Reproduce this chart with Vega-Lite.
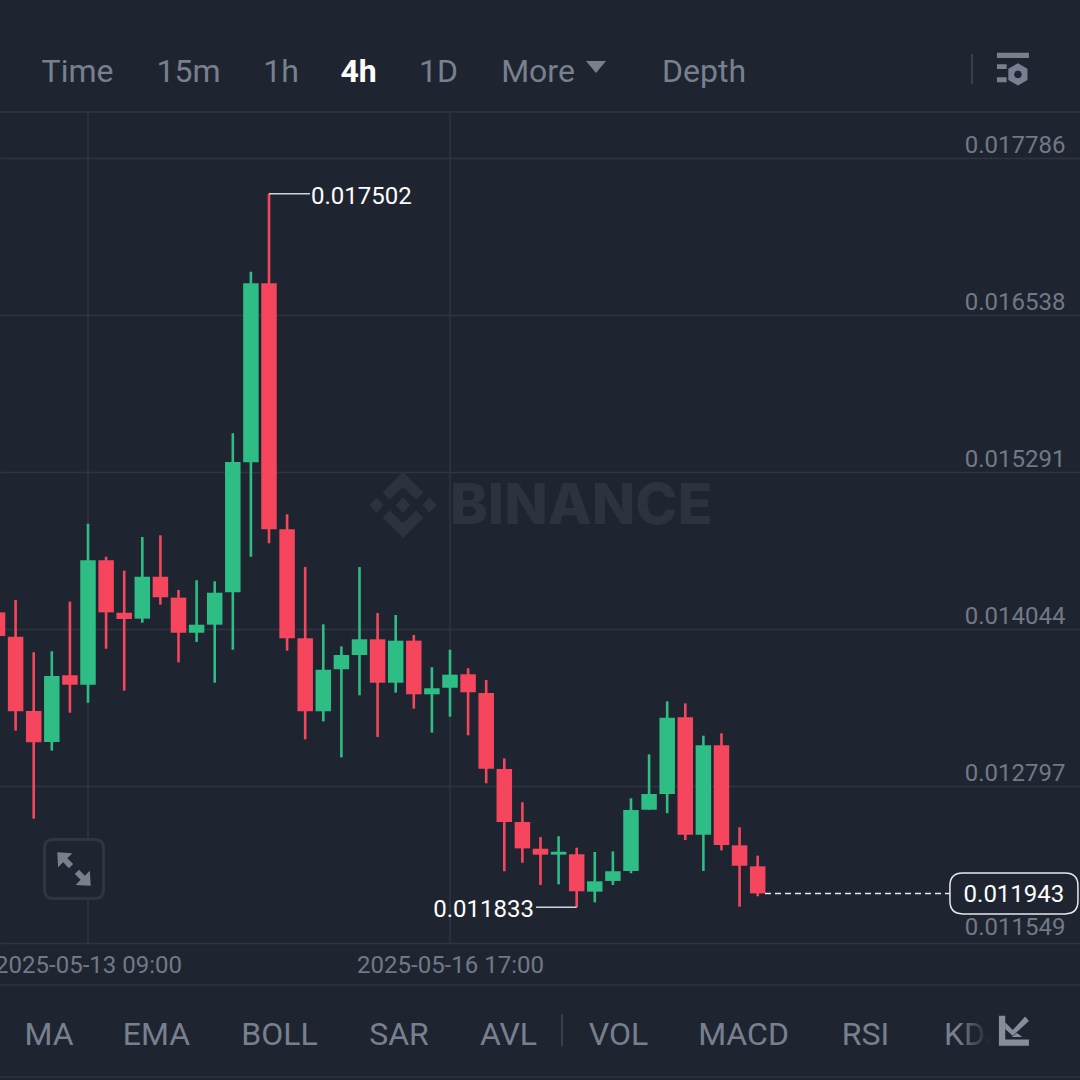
{
  "$schema": "https://vega.github.io/schema/vega-lite/v6.json",
  "description": "4h candlestick chart with exchange toolbars.",
  "width": 1080,
  "height": 1080,
  "padding": 0,
  "autosize": {"type": "none"},
  "background": "#1f2530",
  "config": {
    "view": {"stroke": null},
    "text": {"font": "Roboto", "fontSize": 32, "color": "#78808f", "baseline": "middle", "dy": 2},
    "axis": {"labelFont": "Roboto", "labelFontSize": 24, "labelColor": "#717987", "domain": false, "ticks": false, "title": null}
  },
  "data": {"values": [{}]},
  "datasets": {
    "candles": [
      {"date": "2025-05-12T13:00:00Z", "open": 0.014176, "high": 0.014190, "low": 0.013970, "close": 0.013988},
      {"date": "2025-05-12T17:00:00Z", "open": 0.013983, "high": 0.014274, "low": 0.013236, "close": 0.013390},
      {"date": "2025-05-12T21:00:00Z", "open": 0.013392, "high": 0.013859, "low": 0.012537, "close": 0.013144},
      {"date": "2025-05-13T01:00:00Z", "open": 0.013146, "high": 0.013867, "low": 0.013077, "close": 0.013670},
      {"date": "2025-05-13T05:00:00Z", "open": 0.013676, "high": 0.014261, "low": 0.013379, "close": 0.013601},
      {"date": "2025-05-13T09:00:00Z", "open": 0.013601, "high": 0.014880, "low": 0.013458, "close": 0.014590},
      {"date": "2025-05-13T13:00:00Z", "open": 0.014590, "high": 0.014618, "low": 0.013887, "close": 0.014176},
      {"date": "2025-05-13T17:00:00Z", "open": 0.014173, "high": 0.014507, "low": 0.013554, "close": 0.014123},
      {"date": "2025-05-13T21:00:00Z", "open": 0.014126, "high": 0.014775, "low": 0.014094, "close": 0.014459},
      {"date": "2025-05-14T01:00:00Z", "open": 0.014459, "high": 0.014788, "low": 0.014237, "close": 0.014296},
      {"date": "2025-05-14T05:00:00Z", "open": 0.014293, "high": 0.014354, "low": 0.013779, "close": 0.014014},
      {"date": "2025-05-14T09:00:00Z", "open": 0.014014, "high": 0.014431, "low": 0.013941, "close": 0.014078},
      {"date": "2025-05-14T13:00:00Z", "open": 0.014078, "high": 0.014423, "low": 0.013617, "close": 0.014332},
      {"date": "2025-05-14T17:00:00Z", "open": 0.014335, "high": 0.015599, "low": 0.013879, "close": 0.015371},
      {"date": "2025-05-14T21:00:00Z", "open": 0.015368, "high": 0.016883, "low": 0.014618, "close": 0.016790},
      {"date": "2025-05-15T01:00:00Z", "open": 0.016790, "high": 0.017502, "low": 0.014725, "close": 0.014836},
      {"date": "2025-05-15T05:00:00Z", "open": 0.014836, "high": 0.014955, "low": 0.013871, "close": 0.013970},
      {"date": "2025-05-15T09:00:00Z", "open": 0.013970, "high": 0.014536, "low": 0.013167, "close": 0.013390},
      {"date": "2025-05-15T13:00:00Z", "open": 0.013390, "high": 0.014081, "low": 0.013310, "close": 0.013720},
      {"date": "2025-05-15T17:00:00Z", "open": 0.013724, "high": 0.013906, "low": 0.013024, "close": 0.013837},
      {"date": "2025-05-15T21:00:00Z", "open": 0.013837, "high": 0.014536, "low": 0.013517, "close": 0.013962},
      {"date": "2025-05-16T01:00:00Z", "open": 0.013962, "high": 0.014171, "low": 0.013186, "close": 0.013617},
      {"date": "2025-05-16T05:00:00Z", "open": 0.013617, "high": 0.014155, "low": 0.013538, "close": 0.013951},
      {"date": "2025-05-16T09:00:00Z", "open": 0.013951, "high": 0.013996, "low": 0.013411, "close": 0.013525},
      {"date": "2025-05-16T13:00:00Z", "open": 0.013525, "high": 0.013740, "low": 0.013220, "close": 0.013573},
      {"date": "2025-05-16T17:00:00Z", "open": 0.013577, "high": 0.013879, "low": 0.013347, "close": 0.013681},
      {"date": "2025-05-16T21:00:00Z", "open": 0.013684, "high": 0.013732, "low": 0.013199, "close": 0.013541},
      {"date": "2025-05-17T01:00:00Z", "open": 0.013535, "high": 0.013639, "low": 0.012818, "close": 0.012934},
      {"date": "2025-05-17T05:00:00Z", "open": 0.012931, "high": 0.013016, "low": 0.012119, "close": 0.012510},
      {"date": "2025-05-17T09:00:00Z", "open": 0.012510, "high": 0.012667, "low": 0.012187, "close": 0.012301},
      {"date": "2025-05-17T13:00:00Z", "open": 0.012298, "high": 0.012391, "low": 0.012010, "close": 0.012251},
      {"date": "2025-05-17T17:00:00Z", "open": 0.012251, "high": 0.012397, "low": 0.012015, "close": 0.012274},
      {"date": "2025-05-17T21:00:00Z", "open": 0.012254, "high": 0.012306, "low": 0.011833, "close": 0.011960},
      {"date": "2025-05-18T01:00:00Z", "open": 0.011957, "high": 0.012272, "low": 0.011872, "close": 0.012039},
      {"date": "2025-05-18T05:00:00Z", "open": 0.012042, "high": 0.012277, "low": 0.012010, "close": 0.012119},
      {"date": "2025-05-18T09:00:00Z", "open": 0.012121, "high": 0.012699, "low": 0.012103, "close": 0.012606},
      {"date": "2025-05-18T13:00:00Z", "open": 0.012608, "high": 0.013048, "low": 0.012608, "close": 0.012733},
      {"date": "2025-05-18T17:00:00Z", "open": 0.012733, "high": 0.013469, "low": 0.012580, "close": 0.013339},
      {"date": "2025-05-18T21:00:00Z", "open": 0.013342, "high": 0.013453, "low": 0.012367, "close": 0.012409},
      {"date": "2025-05-19T01:00:00Z", "open": 0.012409, "high": 0.013196, "low": 0.012121, "close": 0.013120},
      {"date": "2025-05-19T05:00:00Z", "open": 0.013120, "high": 0.013215, "low": 0.012285, "close": 0.012328},
      {"date": "2025-05-19T09:00:00Z", "open": 0.012325, "high": 0.012468, "low": 0.011837, "close": 0.012163},
      {"date": "2025-05-19T13:00:00Z", "open": 0.012158, "high": 0.012243, "low": 0.011920, "close": 0.011943}
    ]
  },
  "layer": [
    {"mark": {"type": "rule", "color": "#2f3541", "strokeWidth": 1.5}, "encoding": {"x": {"datum": {"utc": true, "year": 2025, "month": 5, "date": 13, "hours": 9}, "type": "temporal"}, "y": {"datum": 0.018151, "type": "quantitative"}, "y2": {"datum": 0.011549}}},
    {"mark": {"type": "rule", "color": "#2f3541", "strokeWidth": 1.5}, "encoding": {"x": {"datum": {"utc": true, "year": 2025, "month": 5, "date": 16, "hours": 17}, "type": "temporal"}, "y": {"datum": 0.018151, "type": "quantitative"}, "y2": {"datum": 0.011549}}},
    {"mark": {"type": "rule", "color": "#2b313c", "strokeWidth": 2}, "encoding": {"y": {"datum": 0.018151, "type": "quantitative"}}},
    {"mark": {"type": "rule", "color": "#2f3541", "strokeWidth": 1.5}, "encoding": {"y": {"datum": 0.011215, "type": "quantitative"}}},
    {"mark": {"type": "rule", "color": "#2f3541", "strokeWidth": 1.5}, "encoding": {"y": {"datum": 0.010484, "type": "quantitative"}}},
    {"mark": {"type": "text", "text": "BINANCE", "font": "Inter", "fontWeight": 800, "fontSize": 57, "align": "left", "color": "#2d333e"}, "encoding": {"x": {"datum": {"utc": true, "year": 2025, "month": 5, "date": 16, "hours": 17}, "type": "temporal"}, "y": {"datum": 0.015028, "type": "quantitative"}}},
    {
      "mark": {"type": "point", "filled": true, "color": "#2d333e", "opacity": 1, "size": 4356,
        "shape": "M0,-1 L.62,-.38 L.4,-.16 L0,-.55 L-.4,-.16 L-.62,-.38 Z M0,1 L.62,.38 L.4,.16 L0,.55 L-.4,.16 L-.62,.38 Z M0,-.23 L.23,0 L0,.23 L-.23,0 Z M-.8,-.22 L-.58,0 L-.8,.22 L-1.02,0 Z M.8,-.22 L1.02,0 L.8,.22 L.58,0 Z"},
      "encoding": {"x": {"datum": {"utc": true, "year": 2025, "month": 5, "date": 16, "hours": 6, "minutes": 37}, "type": "temporal"}, "y": {"datum": 0.015028, "type": "quantitative"}}
    },
    {
      "data": {"name": "candles"},
      "mark": {"type": "rule", "strokeWidth": 2.6},
      "encoding": {
        "x": {
          "field": "date",
          "type": "temporal",
          "scale": {"type": "utc", "nice": false, "padding": 0, "domain": [{"utc": true, "year": 2025, "month": 5, "date": 12, "hours": 13, "minutes": 33}, {"utc": true, "year": 2025, "month": 5, "date": 22, "hours": 12, "minutes": 14}]},
          "axis": {
            "orient": "bottom",
            "offset": -115,
            "grid": false,
            "values": [
              {"utc": true, "year": 2025, "month": 5, "date": 13, "hours": 9},
              {"utc": true, "year": 2025, "month": 5, "date": 16, "hours": 17}
            ],
            "format": "%Y-%m-%d %H:%M",
            "labelAlign": "center",
            "labelBaseline": "middle",
            "labelPadding": 0,
            "labelLimit": 400,
            "labelFlush": false,
            "labelBound": false,
            "labelOverlap": false
          }
        },
        "y": {
          "field": "high",
          "type": "quantitative",
          "scale": {"domain": [0.0104605, 0.0190413], "zero": false, "nice": false},
          "axis": {
            "orient": "right",
            "values": [0.017786, 0.016538, 0.015291, 0.014044, 0.012797, 0.011549],
            "format": ".6f",
            "grid": true,
            "gridColor": "#2f3541",
            "gridWidth": 1.5,
            "labelAlign": "right",
            "labelBaseline": "bottom",
            "labelPadding": -15,
            "labelOffset": {"condition": {"test": "datum.value < 0.0116", "value": -3}, "value": -0.5},
            "labelBound": false,
            "labelOverlap": false
          }
        },
        "y2": {"field": "low"},
        "color": {"condition": {"test": "datum.close >= datum.open", "value": "#2ebd85"}, "value": "#f6465d"}
      }
    },
    {
      "data": {"name": "candles"},
      "mark": {"type": "bar", "size": 15.5},
      "encoding": {
        "x": {"field": "date", "type": "temporal", "scale": {"type": "utc", "nice": false, "padding": 0, "domain": [{"utc": true, "year": 2025, "month": 5, "date": 12, "hours": 13, "minutes": 33}, {"utc": true, "year": 2025, "month": 5, "date": 22, "hours": 12, "minutes": 14}]}},
        "y": {"field": "open", "type": "quantitative", "scale": {"domain": [0.0104605, 0.0190413], "zero": false, "nice": false}},
        "y2": {"field": "close"},
        "color": {"condition": {"test": "datum.close >= datum.open", "value": "#2ebd85"}, "value": "#f6465d"}
      }
    },
    {"mark": {"type": "rule", "color": "#d0d3d8", "strokeWidth": 1.5}, "encoding": {"x": {"datum": {"utc": true, "year": 2025, "month": 5, "date": 15, "hours": 1}, "type": "temporal"}, "x2": {"datum": {"utc": true, "year": 2025, "month": 5, "date": 15, "hours": 10, "minutes": 4}}, "y": {"datum": 0.017502, "type": "quantitative"}}},
    {"mark": {"type": "text", "text": "0.017502", "fontSize": 24, "align": "left", "color": "#ffffff", "dx": 1, "dy": 3}, "encoding": {"x": {"datum": {"utc": true, "year": 2025, "month": 5, "date": 15, "hours": 10, "minutes": 4}, "type": "temporal"}, "y": {"datum": 0.017502, "type": "quantitative"}}},
    {"mark": {"type": "rule", "color": "#d0d3d8", "strokeWidth": 1.5}, "encoding": {"x": {"datum": {"utc": true, "year": 2025, "month": 5, "date": 17, "hours": 12}, "type": "temporal"}, "x2": {"datum": {"utc": true, "year": 2025, "month": 5, "date": 17, "hours": 21}}, "y": {"datum": 0.011833, "type": "quantitative"}}},
    {"mark": {"type": "text", "text": "0.011833", "fontSize": 24, "align": "right", "color": "#ffffff", "dx": -2, "dy": 3}, "encoding": {"x": {"datum": {"utc": true, "year": 2025, "month": 5, "date": 17, "hours": 12}, "type": "temporal"}, "y": {"datum": 0.011833, "type": "quantitative"}}},
    {"mark": {"type": "rule", "color": "#e6e8eb", "strokeWidth": 1.5, "strokeDash": [6, 4]}, "encoding": {"x": {"datum": {"utc": true, "year": 2025, "month": 5, "date": 19, "hours": 14, "minutes": 37}, "type": "temporal"}, "x2": {"datum": {"utc": true, "year": 2025, "month": 5, "date": 21, "hours": 7, "minutes": 30}}, "y": {"datum": 0.011943, "type": "quantitative"}}},
    {
      "mark": {"type": "point", "filled": false, "fill": "#1f2530", "fillOpacity": 1, "stroke": "#e6e8eb", "strokeWidth": 1.5, "opacity": 1, "size": 16384,
        "shape": "M-.8,-.32 H.8 Q1,-.32 1,-.12 V.12 Q1,.32 .8,.32 H-.8 Q-1,.32 -1,.12 V-.12 Q-1,-.32 -.8,-.32 Z"},
      "encoding": {"x": {"datum": {"utc": true, "year": 2025, "month": 5, "date": 21, "hours": 21, "minutes": 38}, "type": "temporal"}, "y": {"datum": 0.011943, "type": "quantitative"}}
    },
    {"mark": {"type": "text", "text": "0.011943", "fontSize": 24, "color": "#ffffff", "dy": 2}, "encoding": {"x": {"datum": {"utc": true, "year": 2025, "month": 5, "date": 21, "hours": 21, "minutes": 38}, "type": "temporal"}, "y": {"datum": 0.011943, "type": "quantitative"}}},
    {
      "mark": {"type": "point", "filled": false, "fill": "#1f2530", "fillOpacity": 1, "stroke": "#2f3642", "strokeWidth": 3, "opacity": 1, "size": 3481,
        "shape": "M-.7,-1 H.7 Q1,-1 1,-.7 V.7 Q1,1 .7,1 H-.7 Q-1,1 -1,.7 V-.7 Q-1,-1 -.7,-1 Z"},
      "encoding": {"x": {"datum": {"utc": true, "year": 2025, "month": 5, "date": 13, "hours": 5, "minutes": 54}, "type": "temporal"}, "y": {"datum": 0.0121368, "type": "quantitative"}}
    },
    {
      "mark": {"type": "point", "filled": true, "color": "#78808f", "opacity": 1, "size": 1116,
        "shape": "M-1,-1 L-.1,-.95 L-.4,-.65 L-.05,-.3 L-.3,-.05 L-.65,-.4 L-.95,-.1 Z M1,1 L.1,.95 L.4,.65 L.05,.3 L.3,.05 L.65,.4 L.95,.1 Z"},
      "encoding": {"x": {"datum": {"utc": true, "year": 2025, "month": 5, "date": 13, "hours": 5, "minutes": 54}, "type": "temporal"}, "y": {"datum": 0.0121368, "type": "quantitative"}}
    },
    {"mark": {"type": "text", "text": "Time"}, "encoding": {"x": {"datum": {"utc": true, "year": 2025, "month": 5, "date": 13, "hours": 6, "minutes": 41}, "type": "temporal"}, "y": {"datum": 0.018485, "type": "quantitative"}}},
    {"mark": {"type": "text", "text": "15m"}, "encoding": {"x": {"datum": {"utc": true, "year": 2025, "month": 5, "date": 14, "hours": 7, "minutes": 13}, "type": "temporal"}, "y": {"datum": 0.018485, "type": "quantitative"}}},
    {"mark": {"type": "text", "text": "1h"}, "encoding": {"x": {"datum": {"utc": true, "year": 2025, "month": 5, "date": 15, "hours": 3, "minutes": 39}, "type": "temporal"}, "y": {"datum": 0.018485, "type": "quantitative"}}},
    {"mark": {"type": "text", "text": "4h", "color": "#ffffff", "fontWeight": 700}, "encoding": {"x": {"datum": {"utc": true, "year": 2025, "month": 5, "date": 15, "hours": 20, "minutes": 47}, "type": "temporal"}, "y": {"datum": 0.018485, "type": "quantitative"}}},
    {"mark": {"type": "text", "text": "1D"}, "encoding": {"x": {"datum": {"utc": true, "year": 2025, "month": 5, "date": 16, "hours": 14, "minutes": 28}, "type": "temporal"}, "y": {"datum": 0.018485, "type": "quantitative"}}},
    {"mark": {"type": "text", "text": "More"}, "encoding": {"x": {"datum": {"utc": true, "year": 2025, "month": 5, "date": 17, "hours": 12, "minutes": 27}, "type": "temporal"}, "y": {"datum": 0.018485, "type": "quantitative"}}},
    {"mark": {"type": "point", "filled": true, "color": "#78808f", "opacity": 1, "size": 400, "shape": "M-1,-.6 H1 L0,.6 Z"}, "encoding": {"x": {"datum": {"utc": true, "year": 2025, "month": 5, "date": 18, "hours": 1, "minutes": 16}, "type": "temporal"}, "y": {"datum": 0.018509, "type": "quantitative"}}},
    {"mark": {"type": "text", "text": "Depth"}, "encoding": {"x": {"datum": {"utc": true, "year": 2025, "month": 5, "date": 19, "hours": 1, "minutes": 8}, "type": "temporal"}, "y": {"datum": 0.018485, "type": "quantitative"}}},
    {"mark": {"type": "rule", "color": "#3a414d", "strokeWidth": 2}, "encoding": {"x": {"datum": {"utc": true, "year": 2025, "month": 5, "date": 21, "hours": 12, "minutes": 22}, "type": "temporal"}, "y": {"datum": 0.018612, "type": "quantitative"}, "y2": {"datum": 0.018374}}},
    {
      "mark": {"type": "point", "filled": true, "color": "#78808f", "opacity": 1, "size": 1089,
        "shape": "M-.97,-1 H.97 V-.68 H-.97 Z M-.97,-.31 H-.38 V-.01 H-.97 Z M-.97,.49 H-.38 V.79 H-.97 Z M.3,-.37 L.88,-.03 L.88,.65 L.3,.99 L-.28,.65 L-.28,-.03 Z M.3,.07 L.13,.14 L.06,.31 L.13,.48 L.3,.55 L.47,.48 L.54,.31 L.47,.14 Z"},
      "encoding": {"x": {"datum": {"utc": true, "year": 2025, "month": 5, "date": 21, "hours": 21, "minutes": 25}, "type": "temporal"}, "y": {"datum": 0.018491, "type": "quantitative"}}
    },
    {"mark": {"type": "text", "text": "MA"}, "encoding": {"x": {"datum": {"utc": true, "year": 2025, "month": 5, "date": 13, "hours": 0, "minutes": 23}, "type": "temporal"}, "y": {"datum": 0.010834, "type": "quantitative"}}},
    {"mark": {"type": "text", "text": "EMA"}, "encoding": {"x": {"datum": {"utc": true, "year": 2025, "month": 5, "date": 14, "hours": 0, "minutes": 8}, "type": "temporal"}, "y": {"datum": 0.010834, "type": "quantitative"}}},
    {"mark": {"type": "text", "text": "BOLL"}, "encoding": {"x": {"datum": {"utc": true, "year": 2025, "month": 5, "date": 15, "hours": 3, "minutes": 19}, "type": "temporal"}, "y": {"datum": 0.010834, "type": "quantitative"}}},
    {"mark": {"type": "text", "text": "SAR"}, "encoding": {"x": {"datum": {"utc": true, "year": 2025, "month": 5, "date": 16, "hours": 5, "minutes": 44}, "type": "temporal"}, "y": {"datum": 0.010834, "type": "quantitative"}}},
    {"mark": {"type": "text", "text": "AVL"}, "encoding": {"x": {"datum": {"utc": true, "year": 2025, "month": 5, "date": 17, "hours": 5, "minutes": 56}, "type": "temporal"}, "y": {"datum": 0.010834, "type": "quantitative"}}},
    {"mark": {"type": "rule", "color": "#3a414d", "strokeWidth": 2}, "encoding": {"x": {"datum": {"utc": true, "year": 2025, "month": 5, "date": 17, "hours": 17, "minutes": 45}, "type": "temporal"}, "y": {"datum": 0.010985, "type": "quantitative"}, "y2": {"datum": 0.010731}}},
    {"mark": {"type": "text", "text": "VOL"}, "encoding": {"x": {"datum": {"utc": true, "year": 2025, "month": 5, "date": 18, "hours": 6, "minutes": 14}, "type": "temporal"}, "y": {"datum": 0.010834, "type": "quantitative"}}},
    {"mark": {"type": "text", "text": "MACD"}, "encoding": {"x": {"datum": {"utc": true, "year": 2025, "month": 5, "date": 19, "hours": 9, "minutes": 52}, "type": "temporal"}, "y": {"datum": 0.010834, "type": "quantitative"}}},
    {"mark": {"type": "text", "text": "RSI"}, "encoding": {"x": {"datum": {"utc": true, "year": 2025, "month": 5, "date": 20, "hours": 12, "minutes": 49}, "type": "temporal"}, "y": {"datum": 0.010834, "type": "quantitative"}}},
    {"mark": {"type": "text", "text": "KDJ", "align": "left"}, "encoding": {"x": {"datum": {"utc": true, "year": 2025, "month": 5, "date": 21, "hours": 6, "minutes": 10}, "type": "temporal"}, "y": {"datum": 0.010834, "type": "quantitative"}}},
    {
      "mark": {"type": "bar", "color": {"x1": 0, "y1": 0, "x2": 1, "y2": 0, "gradient": "linear", "stops": [{"offset": 0, "color": "rgba(31,37,48,0)"}, {"offset": 0.68, "color": "#1f2530"}, {"offset": 1, "color": "#1f2530"}]}},
      "encoding": {"x": {"datum": {"utc": true, "year": 2025, "month": 5, "date": 21, "hours": 9, "minutes": 16}, "type": "temporal"}, "x2": {"datum": {"utc": true, "year": 2025, "month": 5, "date": 21, "hours": 19, "minutes": 39}}, "y": {"datum": 0.011017, "type": "quantitative"}, "y2": {"datum": 0.010651}}
    },
    {
      "mark": {"type": "point", "filled": true, "color": "#868e9c", "opacity": 1, "size": 900,
        "shape": "M-1,-1 H-.58 V.58 H1 V1 H-1 Z M-.57,-.54 L-.08,-.04 L.75,-.94 L1,-.65 L-.08,.33 L-.57,-.1 Z M.2,.16 L.55,.42 L-.15,.42 Z"},
      "encoding": {"x": {"datum": {"utc": true, "year": 2025, "month": 5, "date": 21, "hours": 21, "minutes": 38}, "type": "temporal"}, "y": {"datum": 0.010852, "type": "quantitative"}}
    }
  ]
}
